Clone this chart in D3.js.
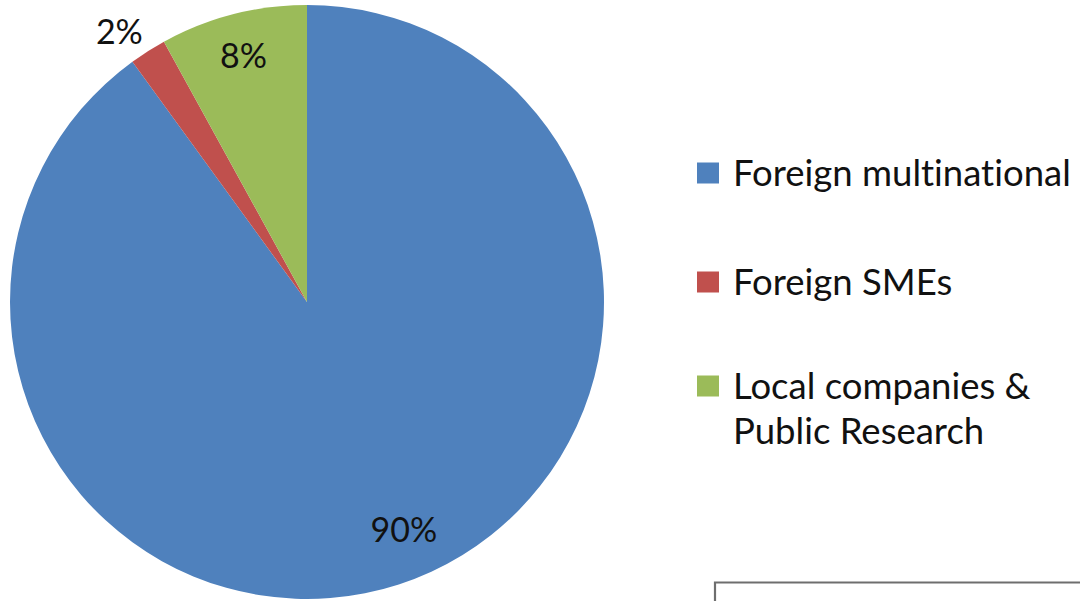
<!DOCTYPE html>
<html>
<head>
<meta charset="utf-8">
<script src="https://cdn.jsdelivr.net/npm/d3@7"></script>
<style>
  html, body { margin: 0; padding: 0; background: #fff; }
  svg { display: block; }
  text { font-family: Lato, "Open Sans", sans-serif; fill: #111; font-variant-ligatures: none; }
</style>
</head>
<body>
<svg id="chart" width="1080" height="601"></svg>
<script>
// Share of activity by actor type (percent)
const categories = ["Foreign multinational", "Foreign SMEs", "Local companies & Public Research"];
const values = [90, 2, 8];
const colors = ["#4F81BD", "#C0504D", "#9BBB59"];
// Legend text, split into the lines it is drawn on
const legendLines = [["Foreign multinational"], ["Foreign SMEs"], ["Local companies &", "Public Research"]];

const W = 1080, H = 601;
const svg = d3.select("#chart");

const cx = 307, cy = 302, R = 297;
const data = categories.map((c, i) => ({ name: c, value: values[i], color: colors[i] }));

const pie = d3.pie().sort(null).value(d => d.value);
const arcs = pie(data);
const arc = d3.arc().innerRadius(0).outerRadius(R);

const g = svg.append("g").attr("transform", `translate(${cx},${cy})`);
g.selectAll("path.slice")
  .data(arcs)
  .enter().append("path")
  .attr("class", "slice")
  .attr("d", arc)
  .attr("fill", d => d.data.color);

// Data labels: radial distance (fraction of R) and angular nudge (radians)
const labelPlace = [
  { r: 0.83, da: -0.09 },
  { r: 1.11, da: -0.04 },
  { r: 0.86, da: 0.0 }
];
g.selectAll("text.lbl")
  .data(arcs)
  .enter().append("text")
  .attr("class", "lbl")
  .attr("text-anchor", "middle")
  .attr("dominant-baseline", "central")
  .style("font-size", "34px")
  .attr("transform", (d, i) => {
    const a = (d.startAngle + d.endAngle) / 2 + labelPlace[i].da;
    const rr = R * labelPlace[i].r;
    return `translate(${rr * Math.sin(a)},${-rr * Math.cos(a)})`;
  })
  .text(d => d.data.value + "%");

// Legend
const legend = svg.append("g").attr("transform", "translate(697,0)");
const rowY = [173, 282, 386];
legendLines.forEach((lines, i) => {
  const row = legend.append("g").attr("transform", `translate(0,${rowY[i]})`);
  row.append("rect").attr("x", 0).attr("y", -10.5).attr("width", 22).attr("height", 21).attr("fill", colors[i]);
  const t = row.append("text").attr("x", 36).attr("y", 0).style("font-size", "36.5px");
  lines.forEach((ln, j) => {
    t.append("tspan").attr("x", 36).attr("dy", j === 0 ? "0.35em" : "45px").text(ln);
  });
});

// Partial frame in the lower right corner
svg.append("path")
  .attr("d", `M715,${H + 2} V582.5 H${W + 2}`)
  .attr("fill", "none")
  .attr("stroke", "#6e6e6e")
  .attr("stroke-width", 2.2);
</script>
</body>
</html>
